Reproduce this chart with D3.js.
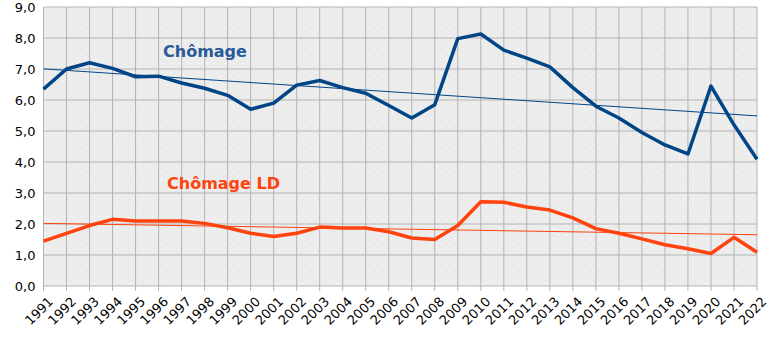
<!DOCTYPE html>
<html>
<head>
<meta charset="utf-8">
<script src="https://cdn.jsdelivr.net/npm/d3@7"></script>
<style>
body { margin: 0; background: #fff; }
text { font-family: "DejaVu Sans", sans-serif; }
</style>
</head>
<body>
<div class="chart"></div>
<script>
// data
let years = d3.range(1991, 2023).map(String)
let chomage = [6.35, 7.0, 7.2, 7.02, 6.75, 6.77, 6.55, 6.38, 6.15, 5.7, 5.9, 6.48, 6.63, 6.4, 6.22, 5.82,
  5.42, 5.85, 7.98, 8.13, 7.61, 7.35, 7.07, 6.4, 5.8, 5.42, 4.95, 4.55, 4.26, 6.45, 5.2, 4.09]
let chomageLD = [1.45, 1.7, 1.95, 2.15, 2.1, 2.1, 2.1, 2.02, 1.88, 1.7, 1.6, 1.7, 1.9, 1.87, 1.87, 1.75,
  1.55, 1.5, 1.95, 2.72, 2.7, 2.55, 2.45, 2.2, 1.85, 1.7, 1.52, 1.33, 1.2, 1.05, 1.57, 1.09]
let yTicks = [0, 1, 2, 3, 4, 5, 6, 7, 8, 9]

let margin = { top: 7, right: 21, bottom: 54, left: 43.5 },
width = 778 - margin.left - margin.right,
height = 340 - margin.top - margin.bottom;

let svg = d3.select(".chart")
.append("svg")
.attr("width", 778)
.attr("height", 340)

// dotted background pattern
let pat = svg.append("defs").append("pattern")
.attr("id", "dots")
.attr("patternUnits", "userSpaceOnUse")
.attr("width", 9).attr("height", 9)
pat.append("rect").attr("width", 9).attr("height", 9).attr("fill", "#ececec")
pat.append("rect").attr("x", 1).attr("y", 2).attr("width", 1).attr("height", 1).attr("fill", "#fff")
pat.append("rect").attr("x", 6).attr("y", 6).attr("width", 1).attr("height", 1).attr("fill", "#fff")

let g = svg.append("g")
.attr("transform", "translate(" + margin.left + "," + margin.top + ")")

let x = d3.scalePoint().domain(years).range([0, width])
let y = d3.scaleLinear().domain([0, 9]).range([height, 0])

g.append("rect").attr("width", width).attr("height", height).attr("fill", "url(#dots)")

// grid
g.selectAll(".hgrid").data(yTicks).join("line")
.attr("x1", 0).attr("x2", width)
.attr("y1", d => y(d)).attr("y2", d => y(d))
.attr("stroke", "#b3b3b3").attr("stroke-width", 1)
g.selectAll(".vgrid").data(years).join("line")
.attr("x1", d => x(d)).attr("x2", d => x(d))
.attr("y1", 0).attr("y2", height + 5)
.attr("stroke", "#b3b3b3").attr("stroke-width", 1)

// y axis labels
g.selectAll(".ylab").data(yTicks).join("text")
.attr("x", -8).attr("y", d => y(d)).attr("dy", "0.35em")
.attr("text-anchor", "end").attr("font-size", 13).attr("fill", "#000")
.text(d => d3.format(".1f")(d).replace(".", ","))

// x axis labels
g.selectAll(".xlab").data(years).join("text")
.attr("transform", d => "translate(" + (x(d) + 4) + "," + (height + 10) + ") rotate(-45)")
.attr("text-anchor", "end").attr("dy", "0.7em").attr("font-size", 13).attr("fill", "#000")
.text(d => d)

// trend lines (least squares)
function trend(vals) {
  let n = vals.length, idx = d3.range(n)
  let mx = d3.mean(idx), my = d3.mean(vals)
  let b = d3.sum(idx, i => (i - mx) * (vals[i] - my)) / d3.sum(idx, i => (i - mx) * (i - mx))
  let a = my - b * mx
  return [a, a + b * (n - 1)]
}

let line = d3.line().x((d, i) => x(years[i])).y(d => y(d))

let series = [
  { vals: chomage, color: "#004586" },
  { vals: chomageLD, color: "#ff420e" }
]
series.forEach(s => {
  let t = trend(s.vals)
  g.append("line")
  .attr("x1", 0).attr("x2", width)
  .attr("y1", y(t[0])).attr("y2", y(t[1]))
  .attr("stroke", s.color).attr("stroke-width", 1)
})
series.forEach(s => {
  g.append("path").datum(s.vals)
  .attr("d", line)
  .attr("fill", "none").attr("stroke", s.color)
  .attr("stroke-width", 3.5).attr("stroke-linejoin", "round")
})

// labels
svg.append("text").attr("x", 163).attr("y", 57)
.attr("font-size", 16).attr("font-weight", "bold").attr("fill", "#2a5a9a").text("Chômage")
svg.append("text").attr("x", 167).attr("y", 189)
.attr("font-size", 16).attr("font-weight", "bold").attr("fill", "#ff420e").text("Chômage LD")
</script>
</body>
</html>
